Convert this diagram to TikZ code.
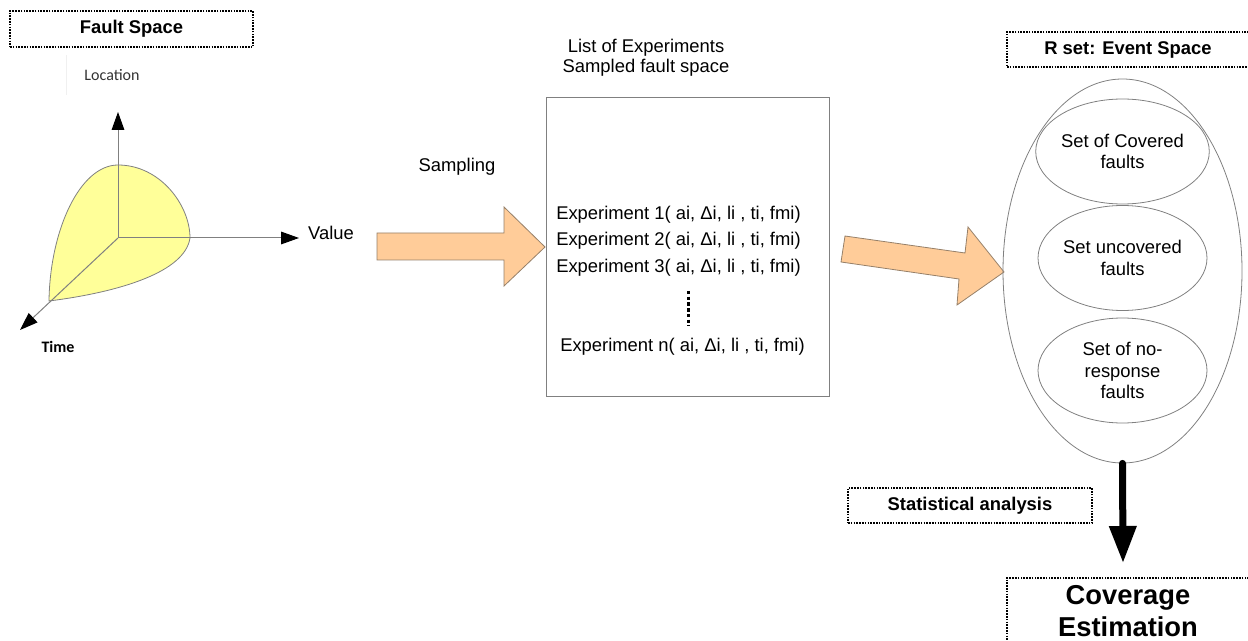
\documentclass[tikz,border=0pt]{standalone}
\usepackage{fontspec}
\setmainfont{Liberation Sans}
\newfontfamily\calibfont{Carlito}
\usetikzlibrary{arrows.meta}
\usetikzlibrary{shapes}
\definecolor{peach}{RGB}{255,204,153}
\definecolor{paleyellow}{RGB}{255,255,153}
\definecolor{edgegray}{RGB}{128,128,128}
\definecolor{arrowedge}{RGB}{150,128,105}
\newcommand{\txtfont}{\fontsize{13.8}{16.1}\selectfont}
\newcommand{\bigfont}{\fontsize{20.5}{24}\selectfont\bfseries}
\newcommand{\expline}[4]{\node[explbl] (#1) at (#2,#3) {Experiment #4( ai, Δi, li , ti, fmi)};}
\newcommand{\setell}[3]{\node[setell] (#1) at (1122.5,#2) {#3};}
\tikzset{
  dotbox/.style={draw, line width=0.8pt, dash pattern=on 1.2pt off 0.9pt, inner sep=0pt, font=\txtfont\bfseries},
  lbl/.style={inner sep=0pt, text height=9.9pt, text depth=0pt, font=\txtfont},
  explbl/.style={lbl, anchor=west},
  axis/.style={draw=edgegray, line width=0.75pt, -{Triangle[length=13.5pt, width=9.5pt, color=black]}},
  setell/.style={ellipse, draw=edgegray, line width=0.6pt, minimum width=126.75pt, minimum height=78.75pt, inner sep=0pt, align=center, font=\txtfont},
  blockarrow/.style={fill=peach, draw=arrowedge, line width=0.6pt}
}

\begin{document}
\begin{tikzpicture}[x=0.75pt, y=-0.75pt]
        \clip (0,0) rectangle (1248,641);

        % fault space
        \node[dotbox, minimum width=182.25pt, minimum height=27pt] (faultspace) at (131.5,29) {Fault Space};
        \draw[black!6, line width=0.75pt] (66,55) -- (66,95);
        \node[inner sep=0pt, font=\calibfont\fontsize{12}{14}\selectfont, text=black!80] (location) at (112,75) {Location};

        \draw[fill=paleyellow, draw=edgegray, line width=0.6pt] (49,301) .. controls (50,230) and (80,165) .. (118,165)
              .. controls (160,165) and (190,205) .. (190,238)
              .. controls (185,272) and (120,292) .. (49,301) -- cycle;

        \coordinate (O) at (118,238);
        \coordinate (up) at (118,112);
        \coordinate (right) at (299,238);
        \coordinate (down) at (20,330);
        \draw[axis] (O) -- (up);
        \draw[axis] (O) -- (right);
        \draw[axis] (O) -- (down);

        \node[lbl] (value) at (331,233) {Value};
        \node[inner sep=0pt, font=\calibfont\bfseries\fontsize{12}{14}\selectfont] (time) at (58,347) {Time};

        % sampling
        \node[lbl] (sampling) at (457,165) {Sampling};
        \draw[blockarrow] (377,233) -- (504,233) -- (504,207) -- (545,247) -- (504,286) -- (504,260) -- (377,260) -- cycle;

        % experiments
        \node[align=center, inner sep=0pt, font=\fontsize{13.8}{15}\selectfont] (listtitle) at (646,58) {List of Experiments\\Sampled fault space};
        \node[draw=edgegray, line width=0.75pt, minimum width=212.25pt, minimum height=223.5pt] (explist) at (687.5,247) {};
        \expline{exp1}{556}{213}{1}
        \expline{exp2}{556}{239}{2}
        \expline{exp3}{556}{266}{3}
        \expline{expn}{560}{345}{n}
        \draw[line width=2.25pt, dash pattern=on 2.6pt off 1.7pt] (688,291) -- (688,326);

        \draw[blockarrow] (845,236) -- (965,253) -- (968,227) -- (1004,272) -- (957,305) -- (959,279) -- (841,262) -- cycle;

        % event space
        \node[dotbox, minimum width=181.5pt, minimum height=26.25pt] (rset) at (1128,49.5) {R set: Event Space};
        \node[ellipse, draw=edgegray, line width=0.6pt, minimum width=179.25pt, minimum height=288pt] (events) at (1122.5,271) {};
        \setell{covered}{151.5}{Set of Covered\\faults}
        \setell{uncovered}{258}{Set uncovered\\faults}
        \setell{noresp}{370.5}{Set of no-\\response\\faults}

        % estimation
        \coordinate (esttip) at (1123,563);
        \draw[line width=5.25pt, line cap=round, -{Triangle[length=27.75pt, width=19.5pt]}] (events.south) -- (esttip);
        \node[dotbox, minimum width=183pt, minimum height=26.25pt] (stats) at (970,505.5) {Statistical analysis};
        \node[dotbox, minimum width=181.5pt, minimum height=49.5pt, align=center, font=\bigfont] (coverage) at (1128,611) {Coverage\\Estimation};

\end{tikzpicture}
\end{document}
